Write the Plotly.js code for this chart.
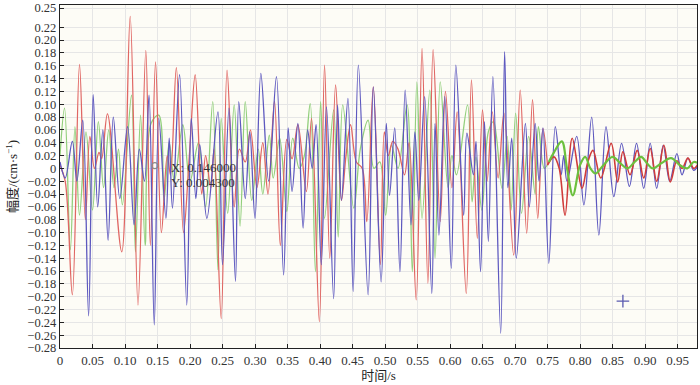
<!DOCTYPE html>
<html>
<head>
<meta charset="utf-8">
<script src="https://cdn.plot.ly/plotly-3.0.1.min.js"></script>
<style>html,body{margin:0;padding:0;background:#fff;}#chart{width:700px;height:385px;}</style>
</head>
<body>
<div id="chart"></div>
<script>
// Red series (early part)
const redT = [0.000,0.008,0.019,0.030,0.039,0.046,0.053,0.060,0.064,0.073,0.095,0.108,0.120,0.132,0.139,0.147,0.156,0.165,0.170,0.179,0.190,0.199,0.208,0.218,0.224,0.232,0.237,0.248,0.257,0.268,0.276,0.285,0.293,0.303,0.312,0.320,0.330,0.339,0.349,0.357,0.366,0.379,0.387,0.399,0.407,0.415,0.424,0.433,0.440,0.447,0.456,0.465,0.472,0.482,0.493,0.499,0.505,0.512,0.520,0.530,0.537,0.548,0.557,0.566,0.574,0.585,0.593,0.603,0.611,0.625,0.633,0.642,0.650,0.657,0.665,0.674,0.683,0.698,0.708,0.718,0.727,0.735,0.743,0.750];
const redV = [0.005,-0.020,-0.197,0.162,-0.080,0.050,0.000,0.025,0.015,0.085,-0.130,0.237,-0.213,0.184,-0.120,0.166,-0.100,0.020,-0.010,0.157,-0.100,0.020,0.146,-0.040,0.020,-0.030,0.030,-0.234,0.153,-0.060,0.030,0.010,0.060,-0.030,0.040,-0.040,0.105,-0.120,0.045,0.015,0.068,-0.036,0.078,-0.239,0.161,-0.140,0.130,-0.050,0.020,0.068,0.010,0.000,-0.083,0.127,-0.150,0.057,0.020,0.042,0.030,-0.010,0.040,-0.205,0.187,-0.179,0.185,-0.083,0.120,-0.030,0.088,-0.195,0.138,-0.109,0.091,-0.020,0.088,-0.015,0.086,-0.135,0.122,-0.101,0.107,-0.078,0.062,0.005];
// Red series (late part)
const redLateT = [0.750,0.760,0.768,0.777,0.788,0.803,0.812,0.820,0.832,0.848,0.858,0.866,0.877,0.888,0.898,0.908,0.918,0.929,0.939,0.949,0.957,0.966,0.975,0.982];
const redLateV = [0.005,0.018,0.000,-0.073,0.047,-0.031,0.010,0.028,-0.015,0.039,-0.021,0.026,-0.010,0.028,-0.015,0.031,-0.020,0.036,-0.021,0.012,0.000,0.016,0.000,0.008];
// Blue series
const blueT = [0.000,0.008,0.019,0.026,0.035,0.044,0.051,0.058,0.066,0.074,0.082,0.092,0.104,0.114,0.122,0.130,0.137,0.145,0.152,0.163,0.168,0.173,0.184,0.195,0.202,0.209,0.215,0.226,0.243,0.250,0.260,0.270,0.275,0.285,0.292,0.300,0.309,0.321,0.333,0.344,0.351,0.357,0.366,0.374,0.381,0.388,0.394,0.402,0.410,0.421,0.427,0.433,0.443,0.451,0.459,0.474,0.482,0.494,0.502,0.507,0.515,0.523,0.531,0.540,0.546,0.552,0.561,0.572,0.577,0.583,0.592,0.602,0.609,0.621,0.626,0.636,0.640,0.647,0.653,0.659,0.666,0.678,0.684,0.689,0.695,0.702,0.716,0.722,0.731,0.737,0.743,0.752,0.762,0.771,0.775,0.780,0.795,0.806,0.818,0.829,0.840,0.852,0.864,0.876,0.887,0.898,0.908,0.918,0.928,0.938,0.949,0.957,0.966,0.975,0.982];
const blueV = [0.010,-0.015,0.042,-0.020,0.075,-0.230,0.115,-0.060,0.060,-0.112,0.080,-0.047,0.065,-0.088,0.030,-0.020,0.114,-0.244,0.078,-0.078,0.047,-0.062,0.146,-0.213,0.078,-0.047,0.037,-0.078,0.088,-0.150,0.094,-0.176,0.104,-0.047,0.057,-0.078,0.148,-0.020,0.143,-0.166,0.063,-0.036,0.070,-0.093,0.060,0.000,0.068,-0.150,0.096,-0.203,0.099,-0.050,0.109,-0.192,0.161,-0.197,0.127,-0.177,0.070,-0.042,0.063,-0.161,0.122,-0.088,0.057,-0.050,0.112,-0.195,0.070,-0.104,0.112,-0.156,0.161,-0.073,0.055,-0.010,0.042,-0.161,0.073,-0.114,0.143,-0.257,0.182,-0.030,0.047,-0.140,0.070,-0.060,0.070,-0.020,0.063,-0.148,0.065,-0.010,0.020,-0.020,0.050,-0.057,0.080,-0.104,0.065,-0.044,0.039,-0.028,0.039,-0.031,0.039,-0.031,0.036,-0.020,0.023,-0.010,0.016,-0.003,0.005];
// Green series (early part)
const greenT = [0.000,0.007,0.016,0.023,0.030,0.040,0.050,0.059,0.067,0.075,0.083,0.090,0.096,0.110,0.116,0.124,0.131,0.140,0.152,0.160,0.168,0.176,0.189,0.200,0.213,0.224,0.235,0.243,0.248,0.258,0.268,0.277,0.285,0.295,0.305,0.312,0.322,0.328,0.338,0.349,0.358,0.368,0.376,0.385,0.393,0.401,0.407,0.421,0.428,0.435,0.452,0.462,0.474,0.483,0.492,0.501,0.510,0.520,0.534,0.542,0.549,0.557,0.569,0.577,0.585,0.597,0.603,0.610,0.627,0.634,0.640,0.649,0.659,0.667,0.680,0.688,0.694,0.701,0.710,0.721,0.731,0.736,0.745,0.752];
const greenV = [0.020,0.094,-0.127,0.065,-0.073,0.057,-0.065,0.073,-0.030,0.060,-0.030,0.030,-0.057,0.114,-0.130,0.083,-0.120,0.070,0.083,-0.050,0.040,-0.020,0.068,-0.020,0.040,-0.060,0.104,-0.158,0.078,-0.070,0.099,-0.090,0.104,-0.050,0.030,-0.040,0.052,-0.015,0.047,-0.067,0.047,0.000,0.020,0.101,-0.161,0.104,-0.078,0.091,-0.107,0.099,-0.062,0.030,0.075,0.000,0.010,-0.073,0.036,0.000,0.099,-0.161,0.135,-0.078,0.122,-0.140,0.135,-0.030,0.020,-0.010,0.099,-0.052,0.018,-0.065,0.057,0.073,-0.031,0.050,-0.065,0.086,-0.070,0.050,-0.040,0.065,0.000,0.010];
// Green series (late part)
const greenLateT = [0.752,0.760,0.772,0.780,0.789,0.800,0.808,0.816,0.824,0.836,0.850,0.862,0.873,0.884,0.894,0.903,0.912,0.925,0.940,0.955,0.965,0.975,0.982];
const greenLateV = [0.010,0.025,0.042,0.000,-0.042,0.005,0.018,0.000,-0.008,0.005,0.018,0.008,0.000,0.010,0.018,0.008,0.000,0.008,0.016,0.004,0.000,0.010,0.008];
// Data tip and cursor marker
const tipX = [0.146];
const tipY = [0.0043];
const tipLabels = ['X: 0.146000', 'Y: 0.004300'];
const crossX = [0.866];
const crossY = [-0.207];
// Tick labels
const xTickVals = [0,0.05,0.10,0.15,0.20,0.25,0.30,0.35,0.40,0.45,0.50,0.55,0.60,0.65,0.70,0.75,0.80,0.85,0.90,0.95];
const xTickText = ['0','0.05','0.10','0.15','0.20','0.25','0.30','0.35','0.40','0.45','0.50','0.55','0.60','0.65','0.70','0.75','0.80','0.85','0.90','0.95'];
const yTickVals = [0.25,0.22,0.20,0.18,0.16,0.14,0.12,0.10,0.08,0.06,0.04,0.02,0,-0.02,-0.04,-0.06,-0.08,-0.10,-0.12,-0.14,-0.16,-0.18,-0.20,-0.22,-0.24,-0.26,-0.28];
const yTickText = ['0.25','0.22','0.20','0.18','0.16','0.14','0.12','0.10','0.08','0.06','0.04','0.02','0','\u22120.02','\u22120.04','\u22120.06','\u22120.08','\u22120.10','\u22120.12','\u22120.14','\u22120.16','\u22120.18','\u22120.20','\u22120.22','\u22120.24','\u22120.26','\u22120.28'];

const serif = 'Liberation Serif, DejaVu Serif, Noto Sans CJK SC, serif';
const sp = {shape:'spline', smoothing:1};

const traces = [
  {x: greenT, y: greenV, mode:'lines', line:Object.assign({color:'#92cf7c', width:1.3}, sp), hoverinfo:'skip'},
  {x: redT, y: redV, mode:'lines', line:Object.assign({color:'#e06663', width:1.3}, sp), hoverinfo:'skip'},
  {x: blueT, y: blueV, mode:'lines', line:Object.assign({color:'#5d58bf', width:1.3}, sp), hoverinfo:'skip'},
  {x: redLateT, y: redLateV, mode:'lines', line:Object.assign({color:'#d03c3a', width:1.6}, sp), hoverinfo:'skip'},
  {x: greenLateT, y: greenLateV, mode:'lines', line:Object.assign({color:'#6cc03e', width:2.2}, sp), hoverinfo:'skip'},
  {x: tipX, y: tipY, mode:'markers', marker:{symbol:'circle-open', size:6, color:'#8a8a8a', line:{width:1.2, color:'#8a8a8a'}}, hoverinfo:'skip'},
  {x: crossX, y: crossY, mode:'markers', marker:{symbol:'cross-thin-open', size:9, color:'#5a5ab0', line:{width:1.3, color:'#5a5ab0'}}, hoverinfo:'skip'}
];

const layout = {
  width:700, height:385,
  margin:{l:60, r:3, t:5, b:37},
  paper_bgcolor:'#ffffff',
  plot_bgcolor:'#fdfcf6',
  showlegend:false,
  font:{family:serif, size:12, color:'#333'},
  xaxis:{
    range:[0,0.98], tickmode:'array', tickvals:xTickVals, ticktext:xTickText,
    ticks:'inside', ticklen:4, tickcolor:'#222', tickwidth:1,
    showline:true, linecolor:'#222', linewidth:1.2, mirror:true,
    showgrid:true, gridcolor:'#e6e6e6', gridwidth:1, zeroline:false,
    tickfont:{family:serif, size:13, color:'#333'},
    title:{text:'时间/s', font:{family:'Liberation Serif, Noto Sans CJK SC', size:13, color:'#222'}, standoff:4}
  },
  yaxis:{
    range:[-0.28,0.2547], tickmode:'array', tickvals:yTickVals, ticktext:yTickText,
    ticks:'inside', ticklen:4, tickcolor:'#222', tickwidth:1,
    showline:true, linecolor:'#222', linewidth:1.2, mirror:true,
    showgrid:true, gridcolor:'#e6e6e6', gridwidth:1, zeroline:false,
    tickfont:{family:serif, size:12.5, color:'#333'},
    title:{text:'幅度/(cm·s<sup>−1</sup>)', font:{family:'Liberation Serif, Noto Sans CJK SC', size:13, color:'#222'}, standoff:6}
  },
  annotations:[
    {x:0.168, y:0.001, xref:'x', yref:'y', text:tipLabels[0], showarrow:false, xanchor:'left', yanchor:'middle', font:{family:serif, size:13, color:'#333'}},
    {x:0.168, y:-0.022, xref:'x', yref:'y', text:tipLabels[1], showarrow:false, xanchor:'left', yanchor:'middle', font:{family:serif, size:13, color:'#333'}}
  ]
};

Plotly.newPlot('chart', traces, layout, {displayModeBar:false, staticPlot:true});
</script>
</body>
</html>
